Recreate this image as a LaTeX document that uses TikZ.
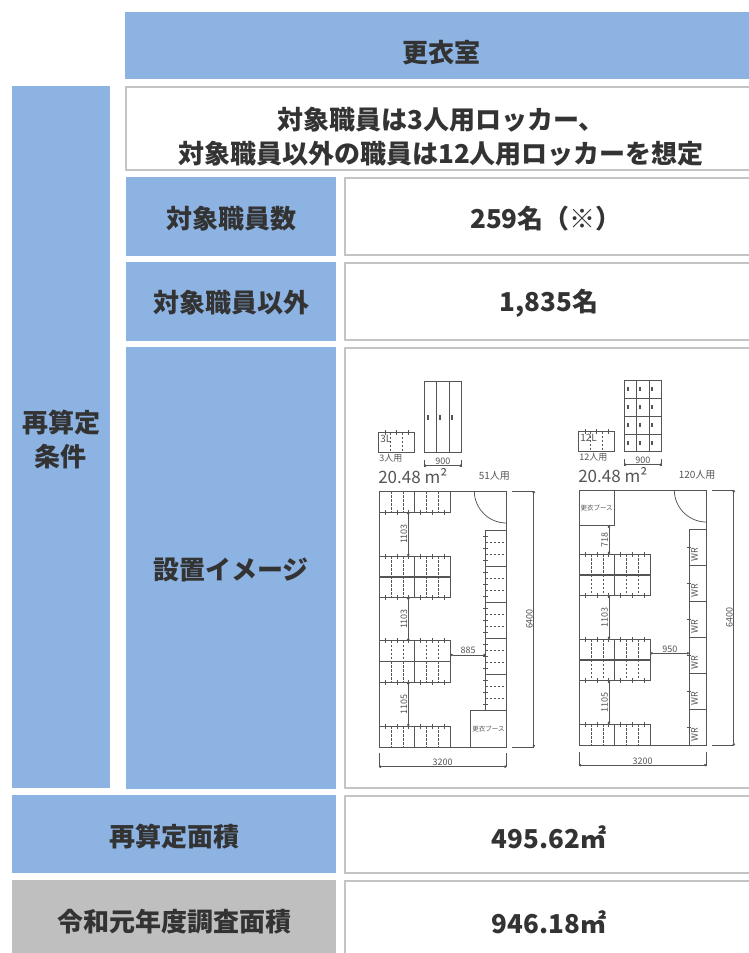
\documentclass[tikz,border=0pt]{standalone}
\usepackage{fontspec}
\setmainfont{Noto Sans CJK JP}
\usetikzlibrary{arrows.meta}
\definecolor{hblue}{HTML}{8DB3E2}
\definecolor{hgray}{HTML}{BFBFBF}
\definecolor{rulegray}{HTML}{C4C4C4}
\definecolor{ink}{HTML}{333333}
\definecolor{pen}{HTML}{555555}

\begin{document}
\begin{tikzpicture}[x=1pt, y=-1pt,
    cellbox/.style={draw=rulegray, line width=2pt, fill=white},
    txt/.style={text=ink, inner sep=0pt, align=center, font=\fontsize{26}{34}\selectfont\bfseries},
    plan/.style={draw=pen, line width=0.75pt},
    hid/.style={plan, dash pattern=on 2.5pt off 1.5pt},
    dim/.style={plan, {Circle[length=2.4pt]}-{Circle[length=2.4pt]}},
    small/.style={text=pen, inner sep=0.6pt, font=\fontsize{9}{9}\selectfont},
    hlbl/.style={small, anchor=south},
    vlbl/.style={small, rotate=90, anchor=south},
    hup/.pic={
      \draw[plan] (0,0) rectangle (35.8,21);
      \draw[hid] (11.9,0) -- (11.9,21) (23.9,0) -- (23.9,21);
      \draw[plan] (6,-2.5) -- (6,2.5) (17.9,-2.5) -- (17.9,2.5) (29.8,-2.5) -- (29.8,2.5);
    },
    hdn/.pic={
      \draw[plan] (0,0) rectangle (35.8,21);
      \draw[hid] (11.9,0) -- (11.9,21) (23.9,0) -- (23.9,21);
      \draw[plan] (6,18.5) -- (6,23.5) (17.9,18.5) -- (17.9,23.5) (29.8,18.5) -- (29.8,23.5);
    },
    vunit/.pic={
      \draw[plan] (0,0) rectangle (20.6,36);
      \draw[hid] (0,12) -- (20.6,12) (0,24) -- (20.6,24);
      \draw[plan] (-2.5,6) -- (2.5,6) (-2.5,18) -- (2.5,18) (-2.5,30) -- (2.5,30);
    },
    wrunit/.pic={
      \draw[plan] (0,0) rectangle (17.3,36);
      \draw[plan] (-2.5,18) -- (2,18);
      \node[small, rotate=90] (-wr) at (5.5,25) {WR};
    }]
  \useasboundingbox (0,0) rectangle (749,953);
  \clip (0,0) rectangle (749,953);

  \fill[hblue] (125,12) rectangle (760,79);
  \node[txt] (room) at (441,53) {更衣室};
  \draw[cellbox] (126,87) rectangle (760,170);
  \node[txt] (rule) at (441,137) {対象職員は3人用ロッカー、\\対象職員以外の職員は12人用ロッカーを想定};
  \fill[hblue] (12,86) rectangle (110,788);
  \node[txt] (cond) at (61,439) {再算定\\条件};
  \fill[hblue] (126,177) rectangle (336,256);
  \node[txt] (nlab) at (231,218.5) {対象職員数};
  \draw[cellbox] (345,178) rectangle (760,255);
  \node[txt] (nval) at (546,218.5) {259名（※）};
  \fill[hblue] (126,262) rectangle (336,341);
  \node[txt] (olab) at (231,303) {対象職員以外};
  \draw[cellbox] (345,263) rectangle (760,340);
  \node[txt] (oval) at (549,303) {1,835名};
  \fill[hblue] (126,347) rectangle (336,789);
  \node[txt] (ilab) at (231,570) {設置イメージ};
  \draw[cellbox] (345,348) rectangle (760,788);
  \fill[hblue] (12,795) rectangle (336,873);
  \node[txt] (alab) at (174,837) {再算定面積};
  \draw[cellbox] (345,796) rectangle (760,873);
  \node[txt] (aval) at (549,837) {495.62㎡};
  \fill[hgray] (12,880) rectangle (336,960);
  \node[txt] (plab) at (174,922) {令和元年度調査面積};
  \draw[cellbox] (345,881) rectangle (760,960);
  \node[txt] (pval) at (549,922) {946.18㎡};

  \foreach \px/\py/\h/\lk/\ppl/\cnt [count=\k] in {379/491/256/3L/3人用/51人用, 579/490/255.5/12L/12人用/120人用} {
    \begin{scope}[shift={(\px,\py)}]
      \draw[plan] (0,0) rectangle (127.3,\h);
      \draw[plan] (95.3,0) .. controls (95.3,17.6) and (109.7,32) .. (127.3,32);
      \draw[plan] (0,\h+6) -- (0,\h+20) (127.3,\h+6) -- (127.3,\h+20);
      \draw[dim] (0,\h+19.7) -- node[hlbl] (w\k) {3200} (127.3,\h+19.7);
      \draw[plan] (133,0) -- (154.8,0) (133,\h) -- (154.8,\h);
      \draw[dim] (154.8,0) -- node[vlbl] (d\k) {6400} (154.8,\h);
      \draw[plan] (45,-110) rectangle (82.7,-38.5) (57.8,-110) -- (57.8,-38.5) (70,-110) -- (70,-38.5);
      \draw[plan] (45,-31) -- (45,-24) (82.7,-31) -- (82.7,-24);
      \draw[dim] (45,-25.3) -- node[hlbl] (e\k) {900} (82.7,-25.3);
      \draw[plan] (-0.5,-58.3) rectangle (35,-38.8);
      \draw[hid] (11.5,-58.3) -- (11.5,-38.8) (23.3,-58.3) -- (23.3,-38.8);
      \draw[plan] (6,-61) -- (6,-56) (17.6,-61) -- (17.6,-56) (29.5,-61) -- (29.5,-56);
      \node[small, font=\fontsize{10}{10}\selectfont, anchor=north west] (l\k) at (0.5,-57) {\lk};
      \node[small, anchor=west] (p\k) at (-0.5,-32.5) {\ppl};
      \node[small, font=\fontsize{17}{17}\selectfont, anchor=west] (a\k) at (-1.5,-15) {20.48 m²};
      \node[small, font=\fontsize{10}{10}\selectfont, anchor=west] (c\k) at (99,-15) {\cnt};
    \end{scope}
  }

  \begin{scope}[shift={(379,491)}]
    \foreach \x in {0,35.8} {
      \pic at (\x,0) {hdn};
      \pic at (\x,65) {hup}; \pic at (\x,85.3) {hdn};
      \pic at (\x,149.7) {hup}; \pic at (\x,170.3) {hdn};
      \pic at (\x,235) {hup};
    }
    \foreach \y in {39.7,75.7,111.7,147.7,183.7} \pic at (106.7,\y) {vunit};
    \draw[plan] (91.7,219.7) rectangle (127.3,256);
    \node[small, font=\fontsize{6.5}{6.5}\selectfont] (boothL) at (109.5,237.8) {更衣ブース};
    \draw[dim] (29.3,21) -- node[vlbl] (g1) {1103} (29.3,65);
    \draw[dim] (29.3,106.3) -- node[vlbl] (g2) {1103} (29.3,149.7);
    \draw[dim] (29.3,191.3) -- node[vlbl] (g3) {1105} (29.3,235);
    \draw[dim] (71.6,164) -- node[hlbl] (g4) {885} (106.7,164);
    \foreach \x in {48.3,60.3,72.3} \fill[pen] (\x,-76.2) rectangle ++(1.4,5);
  \end{scope}

  \begin{scope}[shift={(579,490)}]
    \draw[plan] (0,0) rectangle (35.3,35.7);
    \node[small, font=\fontsize{6.5}{6.5}\selectfont] (boothR) at (17.6,17.8) {更衣ブース};
    \foreach \x in {0,35.8} {
      \pic at (\x,64) {hup}; \pic at (\x,84.7) {hdn};
      \pic at (\x,149) {hup}; \pic at (\x,169.7) {hdn};
      \pic at (\x,234) {hup};
    }
    \foreach \y [count=\i] in {39.3,75.3,111.3,147.3,183.3,219.3} \pic (wr\i) at (110,\y) {wrunit};
    \draw[dim] (30,35.7) -- node[vlbl] (r1) {718} (30,64);
    \draw[dim] (30,105.7) -- node[vlbl] (r2) {1103} (30,149);
    \draw[dim] (30,190.7) -- node[vlbl] (r3) {1105} (30,234);
    \draw[dim] (71.6,163.3) -- node[hlbl] (r4) {950} (110,163.3);
    \draw[plan] (45,-92) -- (82.7,-92) (45,-74) -- (82.7,-74) (45,-56) -- (82.7,-56);
    \foreach \x in {48.3,60.3,72.3} \foreach \y in {-101,-83,-65,-47} \fill[pen] (\x,\y-2) rectangle ++(1.4,4);
  \end{scope}
\end{tikzpicture}
\end{document}
